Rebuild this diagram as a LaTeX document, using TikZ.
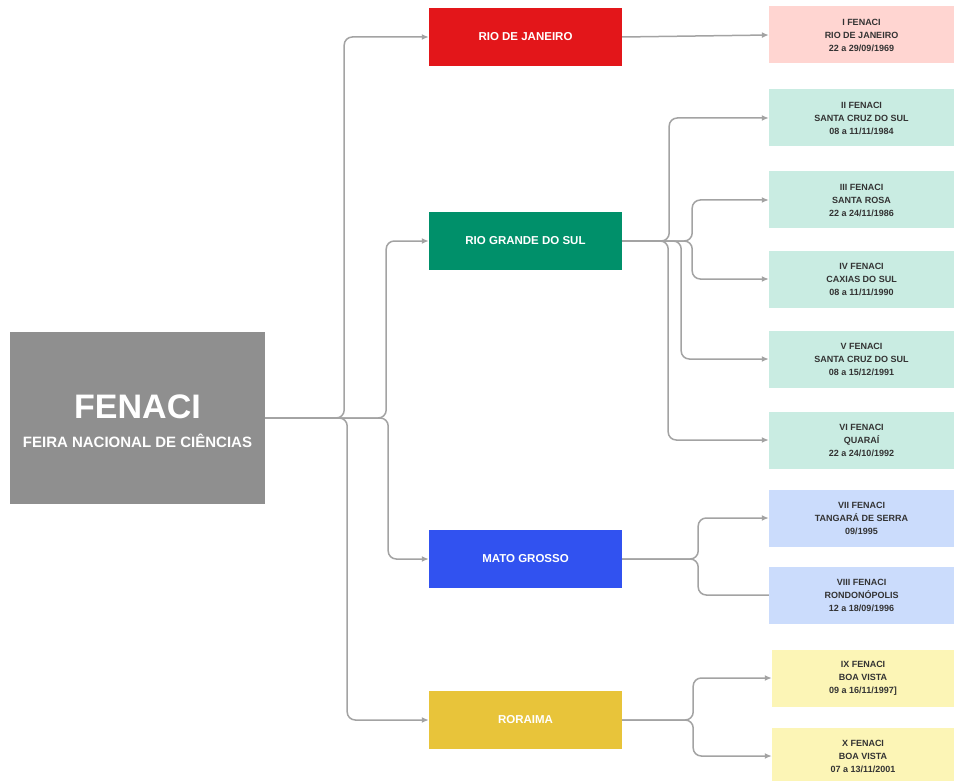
\documentclass[tikz,border=0pt]{standalone}
\usepackage{fontspec}
\setmainfont{Liberation Sans}
\usetikzlibrary{arrows.meta,positioning}
\definecolor{fenacigray}{HTML}{8F8F8F}
\definecolor{rjred}{HTML}{E3161A}
\definecolor{rsgreen}{HTML}{00906A}
\definecolor{mtblue}{HTML}{3152F0}
\definecolor{rryellow}{HTML}{E8C43A}
\definecolor{rjlight}{HTML}{FFD5D1}
\definecolor{rslight}{HTML}{C9ECE2}
\definecolor{mtlight}{HTML}{CBDCFC}
\definecolor{rrlight}{HTML}{FCF5B6}
\definecolor{linkgray}{HTML}{A3A3A3}

\begin{document}
\begin{tikzpicture}[
    x=1pt, y=-1pt,
    state/.style={minimum width=193pt, minimum height=58pt, inner sep=0pt,
                  text=white, font=\bfseries\fontsize{11.5}{13}\selectfont},
    edition/.style={minimum width=185pt, minimum height=57pt, inner sep=0pt,
                    align=center, text=black!80, font=\bfseries\fontsize{9}{13}\selectfont},
    link/.style={draw=linkgray, line width=1.5pt, rounded corners=8pt},
    arrow/.style={link, -{Latex[length=7pt,width=6pt]}}
]
\useasboundingbox (0,0) rectangle (954,781);

% Nodes
\node[fill=fenacigray, minimum width=255pt, minimum height=172pt] (fenaci) at (137.5,418) {};
\node[align=center, text=white, font=\bfseries] (title) at (137.5,421)
      {{\fontsize{34}{40}\selectfont FENACI}\\[14pt]
       {\fontsize{15}{18}\selectfont FEIRA NACIONAL DE CIÊNCIAS}};

\node[state, fill=rjred] (rj) at (525.5,37) {RIO DE JANEIRO};
\node[state, fill=rsgreen] (rs) at (525.5,241) {RIO GRANDE DO SUL};
\node[state, fill=mtblue] (mt) at (525.5,559) {MATO GROSSO};
\node[state, fill=rryellow] (rr) at (525.5,720) {RORAIMA};

\node[edition, fill=rjlight] (e1) at (861.5,35) {I FENACI\\RIO DE JANEIRO\\22 a 29/09/1969};
\node[edition, fill=rslight] (e2) at (861.5,118) {II FENACI\\SANTA CRUZ DO SUL\\08 a 11/11/1984};
\node[edition, fill=rslight] (e3) at (861.5,200) {III FENACI\\SANTA ROSA\\22 a 24/11/1986};
\node[edition, fill=rslight] (e4) at (861.5,279) {IV FENACI\\CAXIAS DO SUL\\08 a 11/11/1990};
\node[edition, fill=rslight] (e5) at (861.5,359) {V FENACI\\SANTA CRUZ DO SUL\\08 a 15/12/1991};
\node[edition, fill=rslight] (e6) at (861.5,440) {VI FENACI\\QUARAÍ\\22 a 24/10/1992};
\node[edition, fill=mtlight] (e7) at (861.5,518) {VII FENACI\\TANGARÁ DE SERRA\\09/1995};
\node[edition, fill=mtlight] (e8) at (861.5,595) {VIII FENACI\\RONDONÓPOLIS\\12 a 18/09/1996};
\node[edition, fill=rrlight, minimum width=182pt] (e9) at (863,678) {IX FENACI\\BOA VISTA\\09 a 16/11/1997]};
\node[edition, fill=rrlight, minimum width=182pt] (e10) at (863,756) {X FENACI\\BOA VISTA\\07 a 13/11/2001};

% Links from FENACI
\draw[arrow] (fenaci.east) -- ++(79,0) |- (rj.west);
\draw[arrow] (fenaci.east) -- ++(121,0) |- (rs.west);
\draw[arrow] (fenaci.east) -- ++(123,0) |- (mt.west);
\draw[arrow] (fenaci.east) -- ++(82,0) |- (rr.west);

% Links from states
\draw[arrow] (rj.east) -- (e1.west);
\draw[arrow] (rs.east) -- ++(47,0) |- (e2.west);
\draw[arrow] (rs.east) -- ++(70,0) |- (e3.west);
\draw[arrow] (rs.east) -- ++(70,0) |- (e4.west);
\draw[arrow] (rs.east) -- ++(59,0) |- (e5.west);
\draw[arrow] (rs.east) -- ++(46,0) |- (e6.west);
\draw[arrow] (mt.east) -- ++(76,0) |- (e7.west);
\draw[link] (mt.east) -- ++(76,0) |- (e8.west);
\draw[arrow] (rr.east) -- ++(71,0) |- (e9.west);
\draw[arrow] (rr.east) -- ++(71,0) |- (e10.west);

\end{tikzpicture}
\end{document}
